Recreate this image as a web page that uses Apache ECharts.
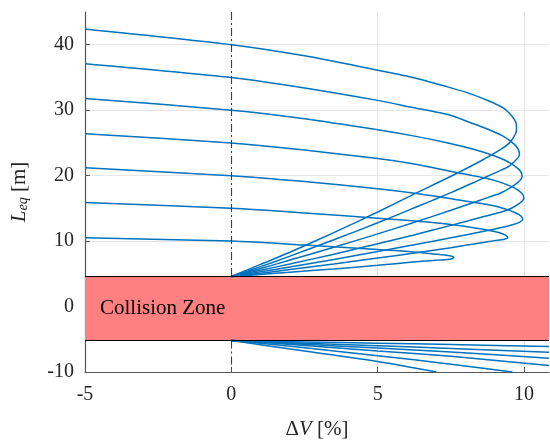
<!DOCTYPE html>
<html>
<head>
<meta charset="utf-8">
<script src="https://cdn.jsdelivr.net/npm/echarts@6/dist/echarts.min.js"></script>
<style>
  html, body { margin: 0; padding: 0; background: #fff; }
  #chart { width: 550px; height: 442px; }
</style>
</head>
<body>
<div id="chart"></div>
<script>
// curves, [dV %, Leq m]
var curve40 = [[-5,42.4],[0,40],[2.5,38.3],[5,36.1],[6.2,35.0],[7.35,33.6],[8.1,32.6],[8.8,31.4],[9.3,30.3],[9.6,29.0],[9.72,28.1],[9.74,27.3],[9.73,26.7],[9.66,26.0],[9.5,25.0],[9.2,24.0],[8.5,22.2],[7.5,19.9],[6.2,17.1],[5,14.45],[3.5,11.3],[2,8.3],[1,6.45],[0,4.6]];
var curve35 = [[-5,37.1],[0,35],[2.5,33.4],[5,31.5],[6.1,30.5],[7.5,29.2],[8.1,28.2],[8.7,27.2],[9.25,26.1],[9.64,24.9],[9.8,24.0],[9.84,23.2],[9.8,22.8],[9.7,22.3],[9.5,21.5],[9.2,20.8],[8.5,19.4],[7.5,17.4],[6.2,15.0],[5,12.8],[3.5,10.2],[2,7.7],[1,6.1],[0,4.6]];
var curve30 = [[-5,31.8],[0,30],[2.5,28.7],[5,27.0],[6.3,26.0],[7.4,25.0],[8.3,24.0],[9.0,23.0],[9.5,22.0],[9.81,21.0],[9.9,20.5],[9.93,19.9],[9.9,19.5],[9.8,19.0],[9.55,18.2],[9.2,17.35],[8.5,16.25],[7.5,14.7],[6.2,12.8],[5,11.1],[3.5,9.05],[2,7.1],[1,5.8],[0,4.6]];
var curve25 = [[-5,26.4],[0,25],[2.5,23.9],[5,22.6],[6.2,21.8],[7.55,20.6],[8.8,19.5],[9.25,18.9],[9.68,18.1],[9.92,17.3],[9.99,16.6],[9.95,16.2],[9.85,15.8],[9.6,15.1],[9.2,14.4],[8.5,13.6],[7.5,12.4],[6.2,10.9],[5,9.6],[3.5,8.0],[2,6.5],[1,5.55],[0,4.6]];
var curve20 = [[-5,21.2],[0,20],[2.5,19.1],[5,18.0],[6.45,17.2],[7.6,16.4],[8.84,15.5],[9.36,14.9],[9.72,14.3],[9.9,13.8],[9.95,13.3],[9.85,12.9],[9.6,12.5],[9.2,12.05],[8.5,11.4],[7.5,10.5],[6.2,9.4],[5,8.4],[3.5,7.2],[2,6.05],[1,5.3],[0,4.6]];
var curve15 = [[-5,15.9],[0,15],[2.5,14.3],[5,13.5],[6.7,12.9],[7.9,12.3],[8.6,11.8],[9.13,11.3],[9.36,10.9],[9.44,10.5],[9.3,10.25],[9.0,10.07],[8.5,9.72],[7.5,9.0],[6.2,8.15],[5,7.4],[3.5,6.5],[2,5.65],[1,5.1],[0,4.6]];
var curve10 = [[-5,10.5],[0,10],[2.5,9.4],[5,8.7],[6.2,8.35],[7.0,8.0],[7.45,7.75],[7.6,7.5],[7.5,7.25],[7.1,7.1],[6.2,6.8],[5,6.3],[3.5,5.75],[2,5.25],[1,4.9],[0,4.6]];

var lowA = [[0,-5.17],[2.5,-5.4],[5,-5.6],[7.5,-5.8],[10.85,-6.1]];
var lowB = [[0,-5.17],[2.5,-5.6],[5,-6.0],[7.5,-6.4],[10.85,-7.0]];
var lowC = [[0,-5.17],[2.5,-5.75],[5,-6.35],[7.5,-6.95],[10.85,-7.9]];
var lowD = [[0,-5.17],[2.5,-5.95],[5,-6.8],[7.5,-7.6],[10.85,-9.0]];
var lowE = [[0,-5.17],[2.5,-6.3],[5,-7.5],[7.5,-8.8],[9.6,-10]];
var lowF = [[0,-5.17],[2.5,-6.8],[5,-8.4],[7.0,-10]];

var zoneTop = 4.57;
var zoneBottom = -5.17;
var zoneText = 'Collision Zone';

var xMin = -5, xMax = 10.85;
var yMin = -10, yMax = 45;

var serif = '"Liberation Serif", "DejaVu Serif", serif';
var blue = '#0072BD';

var chart = echarts.init(document.getElementById('chart'));

function curve(d) {
  return {
    type: 'line',
    data: d,
    showSymbol: false,
    smooth: 0.25,
    silent: true,
    z: 3,
    lineStyle: { color: blue, width: 1.5 }
  };
}

var allCurves = [curve40, curve35, curve30, curve25, curve20, curve15, curve10,
  lowA, lowB, lowC, lowD, lowE, lowF];

var series = [
  {
    // dash-dot line at dV = 0, not drawn through the zone
    type: 'line',
    data: [],
    z: 1,
    markLine: {
      silent: true,
      symbol: 'none',
      label: { show: false },
      lineStyle: { color: '#404040', width: 1.1, type: [8, 3, 2, 3] },
      data: [
        [{ coord: [0, yMax] }, { coord: [0, zoneTop] }],
        [{ coord: [0, zoneBottom] }, { coord: [0, yMin] }]
      ]
    }
  }
];
allCurves.forEach(function (c) { series.push(curve(c)); });
series.push({
  type: 'line',
  data: [],
  z: 10,
  markArea: {
    silent: true,
    itemStyle: { color: '#FF8080', opacity: 1 },
    label: {
      show: true,
      position: 'insideLeft',
      distance: 15,
      color: '#000',
      fontFamily: serif,
      fontSize: 21
    },
    data: [[{ name: zoneText, coord: [xMin, zoneTop] }, { coord: [xMax, zoneBottom] }]]
  },
  markLine: {
    silent: true,
    symbol: 'none',
    label: { show: false },
    lineStyle: { color: '#000', width: 1, type: 'solid' },
    data: [
      [{ coord: [xMin, zoneTop] }, { coord: [xMax, zoneTop] }],
      [{ coord: [xMin, zoneBottom] }, { coord: [xMax, zoneBottom] }]
    ]
  }
});

var option = {
  animation: false,
  grid: { left: 85, right: 1, top: 12, bottom: 70, outerBoundsMode: 'none' },
  xAxis: {
    type: 'value',
    min: xMin,
    max: xMax,
    interval: 5,
    name: '{d|Δ}{i|V}{d| [%]}',
    nameLocation: 'middle',
    nameGap: 47,
    nameTextStyle: {
      rich: {
        d: { fontFamily: serif, fontSize: 21, color: '#262626' },
        i: { fontFamily: serif, fontSize: 21, fontStyle: 'italic', color: '#262626' }
      }
    },
    axisLine: { onZero: false, lineStyle: { color: '#555', width: 1.2 } },
    axisTick: { inside: true, length: 5, lineStyle: { color: '#555' } },
    axisLabel: {
      margin: 13,
      fontFamily: serif,
      fontSize: 20,
      color: '#262626',
      showMaxLabel: false
    },
    splitLine: { show: true, showMaxLine: false, lineStyle: { color: '#e6e6e6', width: 1 } }
  },
  yAxis: {
    type: 'value',
    min: yMin,
    max: yMax,
    interval: 10,
    name: '{i|L}{s|eq}{d| [m]}',
    nameLocation: 'middle',
    nameRotate: 90,
    nameGap: 55,
    nameTextStyle: {
      rich: {
        d: { fontFamily: serif, fontSize: 21, color: '#262626' },
        i: { fontFamily: serif, fontSize: 21, fontStyle: 'italic', color: '#262626' },
        s: { fontFamily: serif, fontSize: 14, fontStyle: 'italic', color: '#262626', verticalAlign: 'bottom', padding: [8, 0, 0, 0] }
      }
    },
    axisLine: { show: true, onZero: false, lineStyle: { color: '#555', width: 1.2 } },
    axisTick: { show: true, inside: true, length: 5, lineStyle: { color: '#555' } },
    axisLabel: {
      margin: 11,
      fontFamily: serif,
      fontSize: 20,
      color: '#262626',
      showMaxLabel: false
    },
    splitLine: { show: true, showMaxLine: false, lineStyle: { color: '#e6e6e6', width: 1 } }
  },
  series: series
};

chart.setOption(option);
</script>
</body>
</html>
